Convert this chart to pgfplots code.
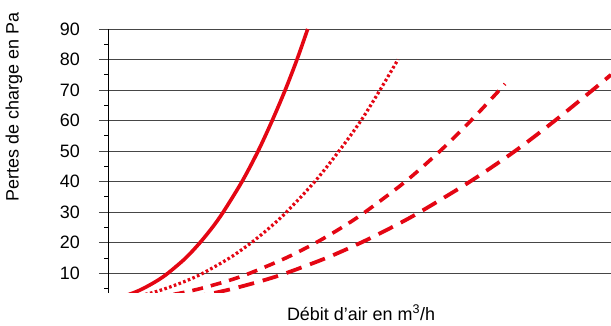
\documentclass[border=0pt]{standalone}
\usepackage{fontspec}
\setmainfont{Liberation Sans}
\usepackage{pgfplots}
\pgfplotsset{compat=1.18}
\definecolor{cred}{RGB}{228,6,19}
\definecolor{gridc}{RGB}{70,70,70}
\begin{document}
\begin{tikzpicture}
\useasboundingbox (0,0) rectangle (611bp,326bp);
\begin{axis}[
  at={(108bp,33bp)}, anchor=south west,
  scale only axis, width=503bp, height=264bp,
  xmin=0, xmax=503, ymin=3.5, ymax=90,
  font=\fontsize{18}{21}\selectfont,
  /pgf/number format/assume math mode=true,
  axis x line*=bottom, axis y line*=left,
  x axis line style={draw=none},
  y axis line style={black, line width=0.9bp, -},
  xtick=\empty,
  ytick={10,20,...,90},
  minor ytick={5,15,...,85},
  tick align=outside,
  major tick length=9bp, minor tick length=3.5bp,
  major tick style={gridc, line width=0.9bp},
  minor tick style={black, line width=0.8bp},
  ymajorgrids, major grid style={gridc, line width=0.9bp},
  yticklabel style={inner sep=0pt, anchor=east, xshift=-19bp},
  xlabel={Débit d’air en m\textsuperscript{3}/h},
  xlabel style={at={(axis description cs:0.503,0)}, anchor=north, inner sep=0pt, yshift=-12bp},
  ylabel={Pertes de charge en Pa},
  ylabel style={at={(axis description cs:-0.187,0.705)}, anchor=center, inner sep=0pt},
  clip=true,
]
\addplot[cred, line width=3.6bp, smooth] coordinates {
 (11.5,2) (25,3.5) (35.4,5) (49,7.5) (60,10) (77.8,15) (92,20) (104.4,25) (115.2,30)
 (134,40) (150.1,50) (164.2,60) (177.2,70) (189,80) (199.7,90)};
\addplot[cred, line width=3.2bp, smooth, dash pattern=on 2.6bp off 2.4bp] coordinates {
 (22.5,2) (43,3.5) (58,5) (78.4,7.5) (95,10) (121.7,15) (143.4,20) (162,25) (178.4,30)
 (206.8,40) (231,50) (253,60) (272,70) (290,80)};
\addplot[cred, line width=3.6bp, smooth, dash pattern=on 11bp off 8bp] coordinates {
 (47,2) (72.8,3.5) (93,5) (120,7.5) (142,10) (178,15) (208,20) (234,25) (257,30)
 (297.4,40) (332,50) (363,60) (391.5,70) (397,72)};
\addplot[cred, line width=3.8bp, smooth, dash pattern=on 16bp off 9bp] coordinates {
 (81.7,2) (106,3.5) (126,5) (154,7.5) (178,10) (218.5,15) (253,20) (283.7,25) (311.8,30)
 (362,40) (407,50) (447,60) (484.6,70) (503,75)};
\end{axis}
\end{tikzpicture}
\end{document}
